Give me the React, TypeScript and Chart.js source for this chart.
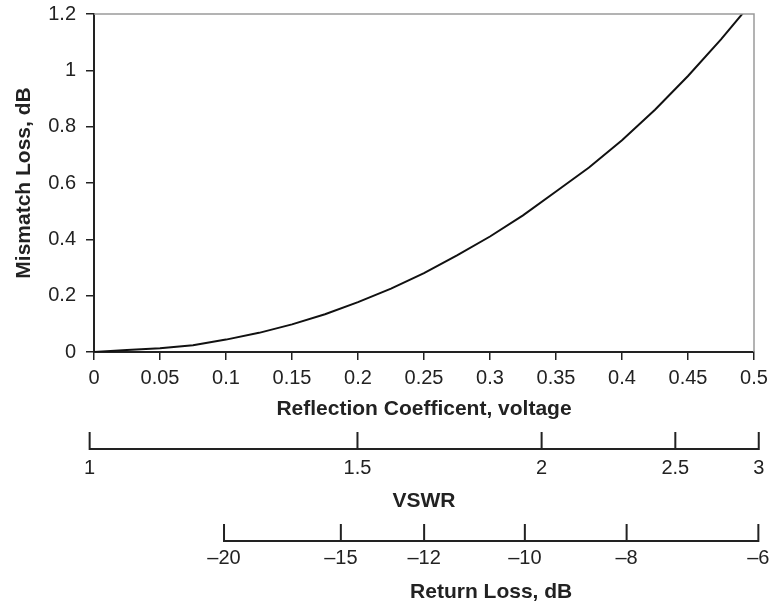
import React, { useEffect, useRef } from 'react';
import { Chart, registerables } from 'chart.js';

Chart.register(...registerables);

// ---- data ----
const gamma = [0, 0.025, 0.05, 0.075, 0.1, 0.125, 0.15, 0.175, 0.2, 0.225, 0.25, 0.275, 0.3, 0.325, 0.35, 0.375, 0.4, 0.425, 0.45, 0.475, 0.5];
const mismatchLossDb = [0, 0.007, 0.013, 0.024, 0.044, 0.068, 0.098, 0.134, 0.177, 0.225, 0.28, 0.343, 0.41, 0.485, 0.57, 0.655, 0.752, 0.86, 0.98, 1.11, 1.25];

const vswrLabels = ['1', '1.5', '2', '2.5', '3'];
const vswrAtGamma = [-0.0033, 0.1996, 0.3391, 0.4404, 0.5036];

const returnLossLabels = ['\u201320', '\u201315', '\u201312', '\u201310', '\u20138', '\u20136'];
const returnLossAtGamma = [0.0985, 0.187, 0.2501, 0.3264, 0.4035, 0.5033];

const xTitle = 'Reflection Coefficent, voltage';
const yTitle = 'Mismatch Loss, dB';
const vswrTitle = 'VSWR';
const rlTitle = 'Return Loss, dB';

// ---- styling ----
const FONT = "'Liberation Sans', Arial, Helvetica, sans-serif";
const INK = '#222222';
const TICK_LEN = 17;
const tickFont = { family: FONT, size: 20 };
const titleFont = { family: FONT, size: 21, weight: 'bold' as const };

const extraAxesPlugin = {
  id: 'extraAxes',
  afterDraw(chart: any) {
    const ctx = chart.ctx as CanvasRenderingContext2D;
    const { left, right, top, bottom } = chart.chartArea;
    ctx.save();
    // grey frame top and right
    ctx.strokeStyle = '#9a9a9a';
    ctx.lineWidth = 1.5;
    ctx.beginPath();
    ctx.moveTo(left, top);
    ctx.lineTo(right, top);
    ctx.lineTo(right, bottom);
    ctx.stroke();

    // secondary axes: line + tick marks
    for (const id of ['vswr', 'rl']) {
      const s = chart.scales[id];
      const px = s.ticks.map((t: any) => s.getPixelForValue(t.value));
      const y0 = s.top;
      const y1 = s.top + TICK_LEN;
      ctx.strokeStyle = INK;
      ctx.lineWidth = 2;
      ctx.lineJoin = 'miter';
      ctx.lineCap = 'butt';
      ctx.beginPath();
      ctx.moveTo(px[0], y0);
      ctx.lineTo(px[0], y1);
      ctx.lineTo(px[px.length - 1], y1);
      ctx.lineTo(px[px.length - 1], y0);
      ctx.stroke();
      ctx.beginPath();
      for (let i = 1; i < px.length - 1; i++) {
        ctx.moveTo(px[i], y0);
        ctx.lineTo(px[i], y1);
      }
      ctx.stroke();
    }

    // return-loss title centred under its own axis
    const rl = chart.scales.rl;
    const p0 = rl.getPixelForValue(returnLossAtGamma[0]);
    const p1 = rl.getPixelForValue(returnLossAtGamma[returnLossAtGamma.length - 1]);
    ctx.fillStyle = INK;
    ctx.font = `bold ${titleFont.size}px ${FONT}`;
    ctx.textAlign = 'center';
    ctx.textBaseline = 'middle';
    ctx.fillText(rlTitle, (p0 + p1) / 2, rl.bottom - 13);
    ctx.restore();
  },
};

function fixHeight(h: number) {
  return (scale: any) => {
    scale.height = h;
    scale.paddingLeft = 0;
    scale.paddingRight = 0;
  };
}

export default function App() {
  const canvasRef = useRef<HTMLCanvasElement | null>(null);

  useEffect(() => {
    const canvas = canvasRef.current;
    if (!canvas) return;
    const chart = new Chart(canvas, {
      type: 'line',
      data: {
        datasets: [
          {
            data: gamma.map((g, i) => ({ x: g, y: mismatchLossDb[i] })),
            borderColor: '#111111',
            borderWidth: 2,
            pointRadius: 0,
            tension: 0,
            fill: false,
            xAxisID: 'x',
            yAxisID: 'y',
          },
        ],
      },
      plugins: [extraAxesPlugin],
      options: {
        responsive: false,
        animation: false,
        events: [],
        layout: { padding: { top: 14, right: 15, bottom: 0, left: 0 } },
        plugins: { legend: { display: false }, tooltip: { enabled: false }, title: { display: false } },
        scales: {
          x: {
            type: 'linear',
            position: 'bottom',
            weight: 0,
            min: 0,
            max: 0.5,
            grid: { drawOnChartArea: false, drawTicks: true, tickLength: 8, color: INK, lineWidth: 1.5 },
            border: { display: true, color: INK, width: 2 },
            ticks: {
              stepSize: 0.05,
              autoSkip: false,
              maxRotation: 0,
              padding: 6,
              color: INK,
              font: tickFont,
              callback: (v: any) => String(Math.round(Number(v) * 100) / 100),
            },
            title: { display: true, text: xTitle, color: INK, font: titleFont, padding: { top: 0, bottom: 10 } },
            afterFit: fixHeight(80),
          },
          vswr: {
            type: 'linear',
            position: 'bottom',
            weight: 1,
            min: 0,
            max: 0.5,
            grid: { display: false, drawTicks: false },
            border: { display: false },
            afterBuildTicks: (scale: any) => {
              scale.ticks = vswrAtGamma.map((v) => ({ value: v }));
            },
            ticks: {
              autoSkip: false,
              maxRotation: 0,
              padding: 24,
              color: INK,
              font: tickFont,
              callback: (_v: any, i: number) => vswrLabels[i],
            },
            title: { display: true, text: vswrTitle, color: INK, font: titleFont, padding: { top: 0, bottom: 10.6 } },
            afterFit: fixHeight(92),
          },
          rl: {
            type: 'linear',
            position: 'bottom',
            weight: 2,
            min: 0,
            max: 0.5,
            grid: { display: false, drawTicks: false },
            border: { display: false },
            afterBuildTicks: (scale: any) => {
              scale.ticks = returnLossAtGamma.map((v) => ({ value: v }));
            },
            ticks: {
              autoSkip: false,
              maxRotation: 0,
              padding: 22.3,
              color: INK,
              font: tickFont,
              callback: (_v: any, i: number) => returnLossLabels[i],
            },
            title: { display: false },
            afterFit: fixHeight(81),
          },
          y: {
            type: 'linear',
            position: 'left',
            min: 0,
            max: 1.2,
            grid: { drawOnChartArea: false, drawTicks: true, tickLength: 8, color: INK, lineWidth: 1.5 },
            border: { display: true, color: INK, width: 2 },
            ticks: {
              stepSize: 0.2,
              padding: 10,
              color: INK,
              font: tickFont,
              callback: (v: any) => String(Math.round(Number(v) * 10) / 10),
            },
            title: { display: true, text: yTitle, color: INK, font: titleFont, padding: { top: 12, bottom: 0 } },
            afterFit: (scale: any) => {
              scale.width = 94;
              scale.paddingTop = 0;
              scale.paddingBottom = 0;
            },
          },
        },
      } as any,
    });
    return () => chart.destroy();
  }, []);

  return (
    <div style={{ position: 'absolute', left: 0, top: 0, width: 769, height: 605, background: '#ffffff' }}>
      <canvas ref={canvasRef} width={769} height={605} style={{ display: 'block' }} />
    </div>
  );
}
